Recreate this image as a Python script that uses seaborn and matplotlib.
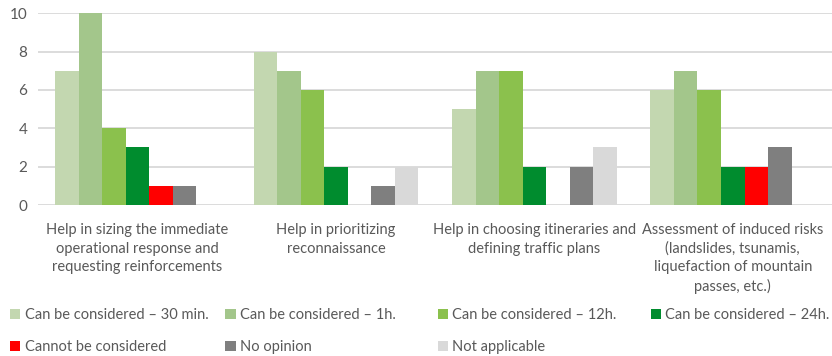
import matplotlib
matplotlib.use("Agg")
import matplotlib.pyplot as plt
import matplotlib.patches as mpatches
import seaborn as sns
import pandas as pd

categories = [
    "Help in sizing the immediate\noperational response and\nrequesting reinforcements",
    "Help in prioritizing\nreconnaissance",
    "Help in choosing itineraries and\ndefining traffic plans",
    "Assessment of induced risks\n(landslides, tsunamis,\nliquefaction of mountain\npasses, etc.)",
]
series = [
    "Can be considered \u2013 30 min.",
    "Can be considered \u2013 1h.",
    "Can be considered \u2013 12h.",
    "Can be considered \u2013 24h.",
    "Cannot be considered",
    "No opinion",
    "Not applicable",
]
v_30min = [7, 8, 5, 6]
v_1h = [10, 7, 7, 7]
v_12h = [4, 6, 7, 6]
v_24h = [3, 2, 2, 2]
v_cannot = [1, 0, 0, 2]
v_noop = [1, 1, 2, 3]
v_na = [0, 2, 3, 0]
values = [v_30min, v_1h, v_12h, v_24h, v_cannot, v_noop, v_na]
colors = ["#C3D7B0", "#A3C68B", "#8BC14D", "#008C2E", "#FF0000", "#7F7F7F", "#D9D9D9"]

rows = []
for s, vals in zip(series, values):
    for c, v in zip(categories, vals):
        rows.append({"category": c, "series": s, "value": v})
df = pd.DataFrame(rows)

sns.set_theme(style="white")
plt.rcParams["font.family"] = ["Lato", "DejaVu Sans"]
text_color = "#595959"
fs = 10.5

fig = plt.figure(figsize=(8.32, 3.56), dpi=100)
ax = fig.add_axes([0.046, 0.424, 0.954, 0.539])

sns.barplot(data=df, x="category", y="value", hue="series", order=categories,
            hue_order=series, palette=colors, width=0.83, gap=0, ax=ax,
            legend=False, saturation=1, linewidth=0, errorbar=None)

ax.set_ylim(0, 10)
ax.set_xlim(-0.5, 3.5)
ax.set_yticks([0, 2, 4, 6, 8, 10])
ax.yaxis.grid(True, color="#D9D9D9", linewidth=1.3)
ax.set_axisbelow(True)
for sp in ax.spines.values():
    sp.set_visible(False)
ax.set_xlabel("")
ax.set_ylabel("")
ax.tick_params(axis="y", length=0, pad=8, labelsize=11, labelcolor=text_color)
ax.tick_params(axis="x", length=0, pad=13, labelsize=fs, labelcolor=text_color)
for lbl in ax.get_xticklabels():
    lbl.set_linespacing(1.4)
    lbl.set_verticalalignment("top")

# legend items placed individually
leg_x = [0.012, 0.271, 0.526, 0.782]
leg_y = [1 - 315 / 356, 1 - 347 / 356]
for i, (s, col) in enumerate(zip(series, colors)):
    r, c = divmod(i, 4)
    h = mpatches.Patch(facecolor=col, edgecolor="none", label=s)
    leg = fig.legend(handles=[h], loc="center left", bbox_to_anchor=(leg_x[c], leg_y[r]),
                     frameon=False, fontsize=fs, handlelength=0.7, handleheight=0.7,
                     handletextpad=0.3, borderpad=0, borderaxespad=0)
    for t in leg.get_texts():
        t.set_color(text_color)

fig.savefig("out.png", dpi=100)
